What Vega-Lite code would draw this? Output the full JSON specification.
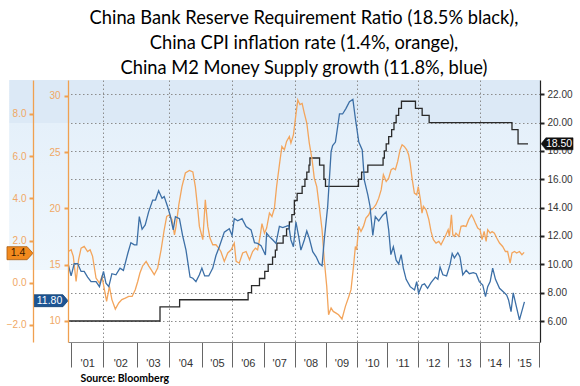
{
  "$schema": "https://vega.github.io/schema/vega-lite/v6.json",
  "width": 472,
  "height": 262,
  "autosize": {"type": "none"},
  "padding": {"left": 68, "top": 80, "right": 40, "bottom": 44},
  "background": "#ffffff",
  "config": {
    "font": "Liberation Sans",
    "view": {"stroke": null, "fill": {"gradient": "linear", "x1": 0, "y1": 0, "x2": 0, "y2": 1, "stops": [{"offset": 0, "color": "#dce9f6"}, {"offset": 0.164, "color": "#dce9f6"}, {"offset": 0.166, "color": "#e5f0fa"}, {"offset": 0.724, "color": "#eff7fd"}, {"offset": 0.727, "color": "#ffffff"}, {"offset": 1, "color": "#ffffff"}]}}
  },
  "title": {
    "text": ["China Bank Reserve Requirement Ratio (18.5% black),", "China CPI inflation rate (1.4%, orange),", "China M2 Money Supply growth (11.8%, blue)"],
    "anchor": "middle", "font": "Lato", "fontSize": 18.3, "fontWeight": "normal", "color": "#000000", "lineHeight": 25, "offset": 2
  },
  "datasets": {
    "rrr": [
      {"t": 2000.85, "v": 6}, {"t": 2003.795, "v": 7}, {"t": 2004.425, "v": 7.5}, {"t": 2006.625, "v": 8}, {"t": 2006.735, "v": 8.5},
      {"t": 2006.99, "v": 9}, {"t": 2007.16, "v": 9.5}, {"t": 2007.27, "v": 10}, {"t": 2007.41, "v": 10.5}, {"t": 2007.5, "v": 11},
      {"t": 2007.55, "v": 11.5}, {"t": 2007.75, "v": 12}, {"t": 2007.86, "v": 12.5}, {"t": 2007.95, "v": 13}, {"t": 2008.03, "v": 13.5},
      {"t": 2008.11, "v": 14.5}, {"t": 2008.2, "v": 15}, {"t": 2008.36, "v": 15.5}, {"t": 2008.45, "v": 16}, {"t": 2008.51, "v": 16.5},
      {"t": 2008.58, "v": 17}, {"t": 2008.61, "v": 17.5}, {"t": 2008.92, "v": 17}, {"t": 2009.06, "v": 16}, {"t": 2009.11, "v": 15.5},
      {"t": 2010.17, "v": 16}, {"t": 2010.27, "v": 16.5}, {"t": 2010.47, "v": 17}, {"t": 2010.96, "v": 17.5}, {"t": 2011.0, "v": 18},
      {"t": 2011.06, "v": 18.5}, {"t": 2011.14, "v": 19}, {"t": 2011.235, "v": 19.5}, {"t": 2011.31, "v": 20}, {"t": 2011.38, "v": 20.5},
      {"t": 2011.46, "v": 21}, {"t": 2011.55, "v": 21.5}, {"t": 2012.0, "v": 21}, {"t": 2012.215, "v": 20.5}, {"t": 2012.44, "v": 20},
      {"t": 2015.1, "v": 19.5}, {"t": 2015.295, "v": 18.5}, {"t": 2015.615, "v": 18.5}
    ],
    "cpi": [
      {"t": 2000.85, "v": 1.48}, {"t": 2000.94, "v": 1.56}, {"t": 2001.01, "v": 1.25}, {"t": 2001.1, "v": 0.06}, {"t": 2001.18, "v": 1.09},
      {"t": 2001.26, "v": 1.64}, {"t": 2001.36, "v": 1.72}, {"t": 2001.47, "v": 1.48}, {"t": 2001.55, "v": 1.56}, {"t": 2001.63, "v": 1.25},
      {"t": 2001.74, "v": 0.22}, {"t": 2001.85, "v": -0.02}, {"t": 2001.93, "v": 0.3}, {"t": 2002.01, "v": -0.33}, {"t": 2002.08, "v": -0.88},
      {"t": 2002.17, "v": -0.17}, {"t": 2002.25, "v": -0.8}, {"t": 2002.36, "v": -1.25}, {"t": 2002.47, "v": -0.96}, {"t": 2002.57, "v": -0.8},
      {"t": 2002.68, "v": -0.73}, {"t": 2002.79, "v": -0.65}, {"t": 2002.9, "v": -0.65}, {"t": 2003.0, "v": -0.33}, {"t": 2003.08, "v": 0.06},
      {"t": 2003.15, "v": 0.46}, {"t": 2003.24, "v": 0.8}, {"t": 2003.35, "v": 1.01}, {"t": 2003.43, "v": 0.8}, {"t": 2003.51, "v": 0.62},
      {"t": 2003.61, "v": 0.38}, {"t": 2003.72, "v": 0.7}, {"t": 2003.83, "v": 1.56}, {"t": 2003.93, "v": 2.51}, {"t": 2004.01, "v": 3.14},
      {"t": 2004.1, "v": 3.22}, {"t": 2004.18, "v": 2.99}, {"t": 2004.26, "v": 2.27}, {"t": 2004.31, "v": 2.67}, {"t": 2004.4, "v": 3.7},
      {"t": 2004.5, "v": 4.56}, {"t": 2004.61, "v": 5.2}, {"t": 2004.74, "v": 5.32}, {"t": 2004.85, "v": 5.25}, {"t": 2004.93, "v": 4.56},
      {"t": 2005.01, "v": 3.46}, {"t": 2005.06, "v": 2.67}, {"t": 2005.17, "v": 2.04}, {"t": 2005.25, "v": 3.93}, {"t": 2005.33, "v": 2.67},
      {"t": 2005.4, "v": 2.12}, {"t": 2005.49, "v": 1.8}, {"t": 2005.59, "v": 1.8}, {"t": 2005.68, "v": 1.64}, {"t": 2005.75, "v": 1.48},
      {"t": 2005.86, "v": 1.01}, {"t": 2005.97, "v": 1.41}, {"t": 2006.08, "v": 1.56}, {"t": 2006.18, "v": 1.88}, {"t": 2006.24, "v": 1.01},
      {"t": 2006.34, "v": 0.93}, {"t": 2006.45, "v": 1.41}, {"t": 2006.56, "v": 1.48}, {"t": 2006.67, "v": 1.09}, {"t": 2006.77, "v": 1.48},
      {"t": 2006.86, "v": 1.64}, {"t": 2006.93, "v": 1.56}, {"t": 2007.01, "v": 2.2}, {"t": 2007.07, "v": 2.8}, {"t": 2007.15, "v": 2.35},
      {"t": 2007.22, "v": 2.59}, {"t": 2007.31, "v": 3.3}, {"t": 2007.39, "v": 3.14}, {"t": 2007.47, "v": 3.54}, {"t": 2007.54, "v": 4.56},
      {"t": 2007.63, "v": 5.59}, {"t": 2007.71, "v": 6.46}, {"t": 2007.79, "v": 6.3}, {"t": 2007.86, "v": 6.7}, {"t": 2007.95, "v": 6.93},
      {"t": 2008.0, "v": 6.62}, {"t": 2008.08, "v": 7.01}, {"t": 2008.14, "v": 7.73}, {"t": 2008.22, "v": 8.67}, {"t": 2008.29, "v": 8.44},
      {"t": 2008.36, "v": 8.5}, {"t": 2008.43, "v": 8.04}, {"t": 2008.51, "v": 7.57}, {"t": 2008.59, "v": 6.62}, {"t": 2008.68, "v": 5.83},
      {"t": 2008.75, "v": 4.96}, {"t": 2008.83, "v": 4.56}, {"t": 2008.91, "v": 3.62}, {"t": 2009.0, "v": 2.51}, {"t": 2009.07, "v": 1.09},
      {"t": 2009.15, "v": -0.17}, {"t": 2009.21, "v": -1.52}, {"t": 2009.29, "v": -1.2}, {"t": 2009.36, "v": -1.36}, {"t": 2009.45, "v": -1.44},
      {"t": 2009.53, "v": -1.52}, {"t": 2009.64, "v": -1.72}, {"t": 2009.75, "v": -1.12}, {"t": 2009.86, "v": -0.65}, {"t": 2009.93, "v": -0.33},
      {"t": 2010.01, "v": 0.77}, {"t": 2010.07, "v": 1.72}, {"t": 2010.11, "v": 1.56}, {"t": 2010.18, "v": 2.67}, {"t": 2010.25, "v": 2.43},
      {"t": 2010.33, "v": 2.67}, {"t": 2010.41, "v": 3.07}, {"t": 2010.5, "v": 3.22}, {"t": 2010.57, "v": 3.46}, {"t": 2010.65, "v": 3.54},
      {"t": 2010.73, "v": 3.7}, {"t": 2010.82, "v": 4.01}, {"t": 2010.9, "v": 4.41}, {"t": 2010.97, "v": 5.12}, {"t": 2011.06, "v": 4.8},
      {"t": 2011.14, "v": 4.96}, {"t": 2011.22, "v": 5.36}, {"t": 2011.29, "v": 5.43}, {"t": 2011.355, "v": 5.36}, {"t": 2011.43, "v": 5.75},
      {"t": 2011.505, "v": 6.3}, {"t": 2011.57, "v": 6.54}, {"t": 2011.64, "v": 6.46}, {"t": 2011.72, "v": 6.3}, {"t": 2011.78, "v": 6.07},
      {"t": 2011.83, "v": 5.67}, {"t": 2011.89, "v": 4.96}, {"t": 2011.965, "v": 4.25}, {"t": 2012.04, "v": 4.17}, {"t": 2012.09, "v": 4.56},
      {"t": 2012.16, "v": 3.93}, {"t": 2012.21, "v": 3.3}, {"t": 2012.255, "v": 3.62}, {"t": 2012.34, "v": 3.46}, {"t": 2012.43, "v": 2.99},
      {"t": 2012.5, "v": 2.43}, {"t": 2012.575, "v": 2.04}, {"t": 2012.66, "v": 1.88}, {"t": 2012.75, "v": 1.96}, {"t": 2012.82, "v": 1.8},
      {"t": 2012.9, "v": 2.04}, {"t": 2012.98, "v": 2.27}, {"t": 2013.05, "v": 2.51}, {"t": 2013.09, "v": 2.2}, {"t": 2013.155, "v": 3.22},
      {"t": 2013.2, "v": 2.27}, {"t": 2013.25, "v": 2.2}, {"t": 2013.3, "v": 2.35}, {"t": 2013.39, "v": 2.2}, {"t": 2013.465, "v": 2.67},
      {"t": 2013.54, "v": 2.7}, {"t": 2013.625, "v": 2.67}, {"t": 2013.71, "v": 2.99}, {"t": 2013.8, "v": 3.22}, {"t": 2013.86, "v": 3.06},
      {"t": 2013.925, "v": 2.83}, {"t": 2014.0, "v": 2.59}, {"t": 2014.075, "v": 2.51}, {"t": 2014.14, "v": 2.04}, {"t": 2014.205, "v": 2.43},
      {"t": 2014.27, "v": 1.96}, {"t": 2014.32, "v": 2.51}, {"t": 2014.4, "v": 2.35}, {"t": 2014.46, "v": 2.43}, {"t": 2014.535, "v": 2.35},
      {"t": 2014.61, "v": 2.12}, {"t": 2014.7, "v": 1.88}, {"t": 2014.8, "v": 1.72}, {"t": 2014.89, "v": 1.48}, {"t": 2014.96, "v": 1.48},
      {"t": 2015.04, "v": 0.93}, {"t": 2015.1, "v": 1.41}, {"t": 2015.18, "v": 1.48}, {"t": 2015.25, "v": 1.41}, {"t": 2015.34, "v": 1.48},
      {"t": 2015.42, "v": 1.33}, {"t": 2015.49, "v": 1.44}
    ],
    "m2": [
      {"t": 2000.85, "v": 15.0}, {"t": 2000.94, "v": 14.0}, {"t": 2001.04, "v": 15.1}, {"t": 2001.15, "v": 15.1}, {"t": 2001.26, "v": 14.4},
      {"t": 2001.36, "v": 14.4}, {"t": 2001.47, "v": 13.9}, {"t": 2001.58, "v": 13.5}, {"t": 2001.74, "v": 13.5}, {"t": 2001.85, "v": 13.05},
      {"t": 2001.98, "v": 14.4}, {"t": 2002.06, "v": 13.35}, {"t": 2002.15, "v": 13.05}, {"t": 2002.25, "v": 14.2}, {"t": 2002.38, "v": 14.1},
      {"t": 2002.51, "v": 14.7}, {"t": 2002.62, "v": 14.5}, {"t": 2002.76, "v": 16.0}, {"t": 2002.86, "v": 16.96}, {"t": 2002.97, "v": 16.76},
      {"t": 2003.05, "v": 16.76}, {"t": 2003.13, "v": 19.27}, {"t": 2003.22, "v": 18.15}, {"t": 2003.32, "v": 18.53}, {"t": 2003.43, "v": 19.7},
      {"t": 2003.56, "v": 20.75}, {"t": 2003.65, "v": 20.75}, {"t": 2003.75, "v": 21.58}, {"t": 2003.86, "v": 20.9}, {"t": 2003.93, "v": 21.05},
      {"t": 2004.04, "v": 20.16}, {"t": 2004.12, "v": 19.4}, {"t": 2004.22, "v": 18.1}, {"t": 2004.29, "v": 19.27}, {"t": 2004.42, "v": 19.1},
      {"t": 2004.52, "v": 17.6}, {"t": 2004.63, "v": 16.3}, {"t": 2004.76, "v": 13.9}, {"t": 2004.85, "v": 13.8}, {"t": 2004.95, "v": 13.5},
      {"t": 2005.06, "v": 14.1}, {"t": 2005.14, "v": 14.7}, {"t": 2005.23, "v": 14.0}, {"t": 2005.36, "v": 14.0}, {"t": 2005.49, "v": 14.7},
      {"t": 2005.59, "v": 15.8}, {"t": 2005.7, "v": 16.6}, {"t": 2005.86, "v": 17.9}, {"t": 2006.02, "v": 18.2}, {"t": 2006.11, "v": 17.6},
      {"t": 2006.18, "v": 19.1}, {"t": 2006.29, "v": 18.9}, {"t": 2006.43, "v": 19.1}, {"t": 2006.56, "v": 18.4}, {"t": 2006.72, "v": 18.1},
      {"t": 2006.83, "v": 16.96}, {"t": 2006.93, "v": 16.9}, {"t": 2007.04, "v": 16.7}, {"t": 2007.18, "v": 15.87}, {"t": 2007.22, "v": 17.8},
      {"t": 2007.31, "v": 17.5}, {"t": 2007.42, "v": 17.2}, {"t": 2007.52, "v": 16.9}, {"t": 2007.63, "v": 18.4}, {"t": 2007.74, "v": 18.3},
      {"t": 2007.84, "v": 18.4}, {"t": 2007.93, "v": 18.5}, {"t": 2008.0, "v": 17.2}, {"t": 2008.08, "v": 16.6}, {"t": 2008.16, "v": 18.8},
      {"t": 2008.25, "v": 17.5}, {"t": 2008.32, "v": 16.3}, {"t": 2008.43, "v": 17.2}, {"t": 2008.51, "v": 18.0}, {"t": 2008.59, "v": 17.35},
      {"t": 2008.7, "v": 16.16}, {"t": 2008.81, "v": 15.7}, {"t": 2008.91, "v": 15.1}, {"t": 2009.0, "v": 14.9}, {"t": 2009.07, "v": 17.2},
      {"t": 2009.18, "v": 20.16}, {"t": 2009.29, "v": 25.05}, {"t": 2009.34, "v": 25.6}, {"t": 2009.43, "v": 25.9}, {"t": 2009.56, "v": 28.4},
      {"t": 2009.66, "v": 28.4}, {"t": 2009.77, "v": 28.9}, {"t": 2009.88, "v": 29.5}, {"t": 2009.99, "v": 29.7}, {"t": 2010.07, "v": 28.0},
      {"t": 2010.18, "v": 25.9}, {"t": 2010.29, "v": 25.2}, {"t": 2010.36, "v": 22.5}, {"t": 2010.47, "v": 21.2}, {"t": 2010.54, "v": 20.2},
      {"t": 2010.63, "v": 17.6}, {"t": 2010.71, "v": 19.27}, {"t": 2010.82, "v": 18.9}, {"t": 2010.95, "v": 19.4}, {"t": 2011.06, "v": 19.7},
      {"t": 2011.14, "v": 18.1}, {"t": 2011.21, "v": 15.9}, {"t": 2011.29, "v": 16.6}, {"t": 2011.38, "v": 15.4}, {"t": 2011.46, "v": 15.07},
      {"t": 2011.54, "v": 15.9}, {"t": 2011.61, "v": 14.7}, {"t": 2011.7, "v": 13.7}, {"t": 2011.83, "v": 13.05}, {"t": 2011.97, "v": 12.76},
      {"t": 2012.04, "v": 13.5}, {"t": 2012.1, "v": 12.46}, {"t": 2012.21, "v": 13.2}, {"t": 2012.29, "v": 13.3}, {"t": 2012.39, "v": 12.9},
      {"t": 2012.5, "v": 13.4}, {"t": 2012.64, "v": 13.9}, {"t": 2012.72, "v": 13.7}, {"t": 2012.79, "v": 14.8}, {"t": 2012.88, "v": 14.1},
      {"t": 2013.0, "v": 14.0}, {"t": 2013.11, "v": 15.0}, {"t": 2013.18, "v": 16.0}, {"t": 2013.25, "v": 15.6}, {"t": 2013.36, "v": 16.07},
      {"t": 2013.43, "v": 15.7}, {"t": 2013.52, "v": 14.1}, {"t": 2013.63, "v": 14.5}, {"t": 2013.73, "v": 14.2}, {"t": 2013.86, "v": 14.3},
      {"t": 2013.95, "v": 14.2}, {"t": 2014.05, "v": 13.5}, {"t": 2014.16, "v": 13.2}, {"t": 2014.25, "v": 12.16}, {"t": 2014.32, "v": 13.05},
      {"t": 2014.4, "v": 13.5}, {"t": 2014.48, "v": 14.7}, {"t": 2014.57, "v": 13.7}, {"t": 2014.7, "v": 12.9}, {"t": 2014.82, "v": 12.6},
      {"t": 2014.93, "v": 12.3}, {"t": 2014.99, "v": 11.87}, {"t": 2015.07, "v": 10.83}, {"t": 2015.14, "v": 12.5}, {"t": 2015.23, "v": 11.4},
      {"t": 2015.34, "v": 10.1}, {"t": 2015.5, "v": 11.7}
    ],
    "tags": [
      {"series": "RRR", "value": 18.5, "label": "18.50"},
      {"series": "CPI", "value": 1.4, "label": "1.4"},
      {"series": "M2", "value": 11.8, "label": "11.80"}
    ]
  },
  "resolve": {"scale": {"y": "independent"}, "axis": {"y": "independent", "x": "independent"}},
  "layer": [
    {
      "data": {"values": [{}]},
      "mark": {"type": "rect", "fill": {"gradient": "linear", "x1": 0, "y1": 0, "x2": 0, "y2": 1, "stops": [{"offset": 0, "color": "#dce9f6"}, {"offset": 0.226, "color": "#dce9f6"}, {"offset": 0.229, "color": "#e5f0fa"}, {"offset": 1, "color": "#eff7fd"}]}},
      "encoding": {
        "x": {"datum": 1998.95, "type": "quantitative", "scale": {"domain": [2000.84, 2016.0], "nice": false, "zero": false}, "axis": null},
        "x2": {"datum": 2000.84},
        "y": {"datum": 23, "type": "quantitative", "scale": {"domain": [4.52, 23.0], "nice": false, "zero": false}, "axis": null},
        "y2": {"datum": 9.6}
      }
    },
    {
      "data": {"name": "rrr"},
      "mark": {"type": "line", "interpolate": "step-after", "color": "#2a2a2a", "strokeWidth": 1.3},
      "encoding": {
        "x": {"field": "t", "type": "quantitative", "scale": {"domain": [2000.84, 2016.0], "nice": false, "zero": false},
          "axis": {"orient": "bottom", "values": [2000.936, 2001.98, 2003.06, 2004.08, 2005.14, 2006.11, 2007.12, 2008.13, 2009.13, 2010.12, 2011.09, 2012.07, 2013.05, 2014.06, 2015.01, 2015.97],
            "labels": false, "grid": false, "tickSize": 25, "tickColor": "#666666", "tickWidth": 1, "domainColor": "#8a8a8a", "domainWidth": 1, "title": null}},
        "y": {"field": "v", "type": "quantitative", "scale": {"domain": [4.52, 23.0], "nice": false, "zero": false},
          "axis": {"orient": "right", "values": [6, 8, 10, 12, 14, 16, 18, 20, 22], "format": ".2f", "grid": true, "gridDash": [1.5, 2.5], "gridColor": "#8c8c8c", "gridWidth": 1,
            "tickSize": 4, "tickWidth": 2, "tickColor": "#222222", "domainColor": "#222222", "domainWidth": 1.2, "labelColor": "#333333", "labelFont": "Liberation Sans", "labelFontSize": 10, "labelPadding": 3, "title": null}}
      }
    },
    {
      "data": {"name": "cpi"},
      "mark": {"type": "line", "color": "#f3a55c", "strokeWidth": 1.3},
      "encoding": {
        "x": {"field": "t", "type": "quantitative", "scale": {"domain": [2000.84, 2016.0], "nice": false, "zero": false},
          "axis": {"orient": "bottom", "values": [2001.458, 2002.52, 2003.57, 2004.61, 2005.625, 2006.615, 2007.625, 2008.63, 2009.625, 2010.605, 2011.58, 2012.56, 2013.555, 2014.535, 2015.49],
            "ticks": false, "domain": false, "grid": false, "labelPadding": 15, "labelFont": "Liberation Sans", "labelFontSize": 11, "labelColor": "#333333",
            "labelExpr": "\"'\" + substring(toString(floor(datum.value)), 2)",
            "title": "Source: Bloomberg", "titleFont": "Lato", "titleFontSize": 10.5, "titleFontWeight": "bold", "titleColor": "#000000",
            "titleAnchor": "start", "titleAlign": "left", "titleBaseline": "alphabetic", "titleX": 12, "titleY": 39}},
        "y": {"field": "v", "type": "quantitative", "scale": {"domain": [-2.81, 9.61], "nice": false, "zero": false},
          "axis": {"orient": "left", "offset": 35, "zindex": 1, "values": [-2, 0, 2, 4, 6, 8], "format": ".1f", "grid": false,
            "domainColor": "#f0a050", "domainWidth": 1.3, "tickColor": "#f0a050", "tickSize": 4, "tickWidth": 2, "labelColor": "#f0a865", "labelFont": "Liberation Sans", "labelFontSize": 10, "labelPadding": 3, "title": null}}
      }
    },
    {
      "data": {"name": "m2"},
      "mark": {"type": "line", "color": "#3c6fa6", "strokeWidth": 1.3},
      "encoding": {
        "x": {"field": "t", "type": "quantitative", "scale": {"domain": [2000.84, 2016.0], "nice": false, "zero": false},
          "axis": {"orient": "bottom", "values": [2001.98, 2004.08, 2006.11, 2008.13, 2010.12, 2012.07, 2014.06], "grid": true, "gridDash": [1.5, 2.5], "gridColor": "#8c8c8c", "gridWidth": 1,
            "labels": false, "ticks": false, "domain": false, "title": null}},
        "y": {"field": "v", "type": "quantitative", "scale": {"domain": [8.13, 31.42], "nice": false, "zero": false},
          "axis": {"orient": "left", "zindex": 1, "values": [10, 15, 20, 25, 30], "grid": false,
            "domainColor": "#f0a050", "domainWidth": 1.3, "tickColor": "#f0a050", "tickSize": 4, "tickWidth": 2, "labelColor": "#f0a865", "labelFont": "Liberation Sans", "labelFontSize": 10, "labelPadding": 4, "title": null}}
      }
    },
    {
      "data": {"name": "tags"},
      "transform": [{"filter": "datum.series === 'RRR'"}],
      "mark": {"type": "point", "shape": "M1,-0.375L-0.7,-0.375L-1,0L-0.7,0.375L1,0.375Z", "size": 1024, "filled": true, "fill": "#111111", "stroke": "#111111", "strokeWidth": 0.5, "opacity": 1},
      "encoding": {
        "x": {"datum": 2016.548, "type": "quantitative", "scale": {"domain": [2000.84, 2016.0], "nice": false, "zero": false}, "axis": null},
        "y": {"field": "value", "type": "quantitative", "scale": {"domain": [4.52, 23.0], "nice": false, "zero": false}, "axis": null}
      }
    },
    {
      "data": {"name": "tags"},
      "transform": [{"filter": "datum.series === 'RRR'"}],
      "mark": {"type": "text", "color": "#ffffff", "font": "Liberation Sans", "fontSize": 10.5, "dx": 2, "align": "center", "baseline": "middle"},
      "encoding": {
        "x": {"datum": 2016.548, "type": "quantitative", "scale": {"domain": [2000.84, 2016.0], "nice": false, "zero": false}, "axis": null},
        "y": {"field": "value", "type": "quantitative", "scale": {"domain": [4.52, 23.0], "nice": false, "zero": false}, "axis": null},
        "text": {"field": "label"}
      }
    },
    {
      "data": {"name": "tags"},
      "transform": [{"filter": "datum.series === 'CPI'"}],
      "mark": {"type": "point", "shape": "M-1,-0.5L0.55,-0.5L1,0L0.55,0.5L-1,0.5Z", "size": 676, "filled": true, "fill": "#f28a1e", "stroke": "#a85c12", "strokeWidth": 0.8, "opacity": 1},
      "encoding": {
        "x": {"datum": 1999.298, "type": "quantitative", "scale": {"domain": [2000.84, 2016.0], "nice": false, "zero": false}, "axis": null},
        "y": {"field": "value", "type": "quantitative", "scale": {"domain": [-2.81, 9.61], "nice": false, "zero": false}, "axis": null}
      }
    },
    {
      "data": {"name": "tags"},
      "transform": [{"filter": "datum.series === 'CPI'"}],
      "mark": {"type": "text", "color": "#3a1a00", "font": "Liberation Sans", "fontSize": 10.5, "dx": -2, "align": "center", "baseline": "middle"},
      "encoding": {
        "x": {"datum": 1999.298, "type": "quantitative", "scale": {"domain": [2000.84, 2016.0], "nice": false, "zero": false}, "axis": null},
        "y": {"field": "value", "type": "quantitative", "scale": {"domain": [-2.81, 9.61], "nice": false, "zero": false}, "axis": null},
        "text": {"field": "label"}
      }
    },
    {
      "data": {"name": "tags"},
      "transform": [{"filter": "datum.series === 'M2'"}],
      "mark": {"type": "point", "shape": "M-1,-0.35L0.7,-0.35L1,0L0.7,0.35L-1,0.35Z", "size": 1156, "filled": true, "fill": "#1d5594", "stroke": "#123f70", "strokeWidth": 0.8, "opacity": 1},
      "encoding": {
        "x": {"datum": 2000.294, "type": "quantitative", "scale": {"domain": [2000.84, 2016.0], "nice": false, "zero": false}, "axis": null},
        "y": {"field": "value", "type": "quantitative", "scale": {"domain": [8.13, 31.42], "nice": false, "zero": false}, "axis": null}
      }
    },
    {
      "data": {"name": "tags"},
      "transform": [{"filter": "datum.series === 'M2'"}],
      "mark": {"type": "text", "color": "#ffffff", "font": "Liberation Sans", "fontSize": 10.5, "dx": -1.5, "align": "center", "baseline": "middle"},
      "encoding": {
        "x": {"datum": 2000.294, "type": "quantitative", "scale": {"domain": [2000.84, 2016.0], "nice": false, "zero": false}, "axis": null},
        "y": {"field": "value", "type": "quantitative", "scale": {"domain": [8.13, 31.42], "nice": false, "zero": false}, "axis": null},
        "text": {"field": "label"}
      }
    }
  ]
}
